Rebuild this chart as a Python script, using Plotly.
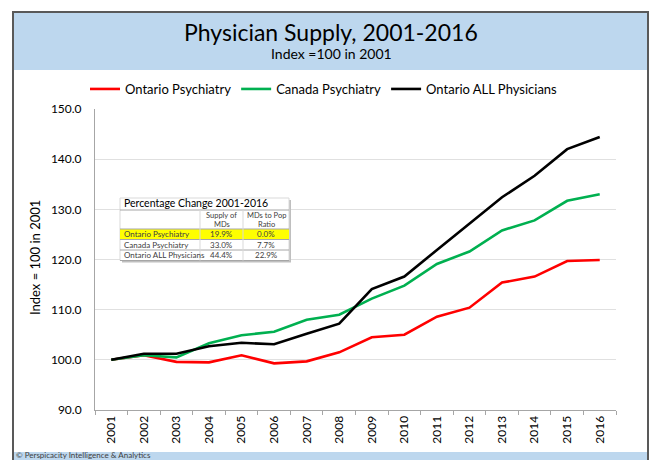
import plotly.graph_objects as go

years = [str(y) for y in range(2001, 2017)]
ontario_psych = [100.0, 100.9, 99.6, 99.5, 100.9, 99.3, 99.7, 101.5, 104.5, 105.0, 108.6, 110.4, 115.4, 116.6, 119.7, 119.9]
canada_psych = [100.0, 100.9, 100.5, 103.3, 104.9, 105.6, 108.0, 109.0, 112.2, 114.8, 119.1, 121.6, 125.8, 127.8, 131.7, 133.0]
ontario_all = [100.0, 101.2, 101.2, 102.7, 103.4, 103.1, 105.2, 107.2, 114.1, 116.6, 121.9, 127.2, 132.4, 136.7, 142.0, 144.4]
y_ticks = [90, 100, 110, 120, 130, 140, 150]

table_title = "Percentage Change 2001-2016"
table_headers = [("Supply of", "MDs"), ("MDs to Pop", "Ratio")]
table_rows = ["Ontario Psychiatry", "Canada Psychiatry", "Ontario ALL Physicians"]
table_supply = ["19.9%", "33.0%", "44.4%"]
table_ratio = ["0.0%", "7.7%", "22.9%"]

W, H = 650, 460
FONT = "Lato"

def px(x):
    return x / W

def py(y):
    return 1 - y / H

fig = go.Figure()
series = [("Ontario Psychiatry", ontario_psych, "#FF0000"),
          ("Canada Psychiatry", canada_psych, "#00B050"),
          ("Ontario ALL Physicians", ontario_all, "#000000")]
for name, vals, col in series:
    fig.add_trace(go.Scatter(x=years, y=vals, mode="lines", name=name,
                             line=dict(color=col, width=2.6)))

shapes = []
annotations = []
# header band
shapes.append(dict(type="rect", xref="paper", yref="paper", x0=px(13), x1=px(648), y0=py(70), y1=py(12),
                   fillcolor="#BDD7EE", line=dict(width=0), layer="below"))
# footer band
shapes.append(dict(type="rect", xref="paper", yref="paper", x0=px(13), x1=px(648), y0=py(462), y1=py(452),
                   fillcolor="#BDD7EE", line=dict(width=0), layer="below"))
# outer border
shapes.append(dict(type="rect", xref="paper", yref="paper", x0=px(13), x1=px(648), y0=py(470), y1=py(12),
                   fillcolor="rgba(0,0,0,0)", line=dict(color="#595959", width=2)))

annotations.append(dict(text="Physician Supply, 2001-2016", xref="paper", yref="paper", x=px(331), y=py(32),
                        showarrow=False, font=dict(family=FONT, size=23, color="#000000"), xanchor="center", yanchor="middle"))
annotations.append(dict(text="Index =100 in 2001", xref="paper", yref="paper", x=px(331), y=py(54),
                        showarrow=False, font=dict(family=FONT, size=14, color="#000000"), xanchor="center", yanchor="middle"))
annotations.append(dict(text="© Perspicacity Intelligence & Analytics", xref="paper", yref="paper", x=px(14), y=py(454.8),
                        showarrow=False, font=dict(family=FONT, size=8, color="#404040"), xanchor="left", yanchor="middle"))
annotations.append(dict(text="Index = 100 in 2001", xref="paper", yref="paper", x=px(35), y=py(258), textangle=-90,
                        showarrow=False, font=dict(family=FONT, size=13, color="#000000"), xanchor="center", yanchor="middle"))

# table
tx0, tc1, tc2, tx1 = 120, 200, 243, 289
ty_top, ty_title, ty_head, ty_r = 198, 210, 229, [229, 239.5, 250, 260.5]
shapes.append(dict(type="rect", xref="paper", yref="paper", x0=px(tx0 + 2), x1=px(tx1 + 2), y0=py(ty_r[-1] + 2), y1=py(ty_top + 2),
                   fillcolor="#BFBFBF", line=dict(width=0)))
shapes.append(dict(type="rect", xref="paper", yref="paper", x0=px(tx0), x1=px(tx1), y0=py(ty_r[-1]), y1=py(ty_top),
                   fillcolor="#FFFFFF", line=dict(color="#D9D9D9", width=1)))
shapes.append(dict(type="rect", xref="paper", yref="paper", x0=px(tx0), x1=px(tx1), y0=py(ty_r[1]), y1=py(ty_r[0]),
                   fillcolor="#FFFF00", line=dict(width=0)))
for yy in [ty_title, ty_head] + ty_r[1:]:
    shapes.append(dict(type="line", xref="paper", yref="paper", x0=px(tx0), x1=px(tx1), y0=py(yy), y1=py(yy),
                       line=dict(color="#A6A6A6", width=1)))
for xx in [tc1, tc2]:
    shapes.append(dict(type="line", xref="paper", yref="paper", x0=px(xx), x1=px(xx), y0=py(ty_r[-1]), y1=py(ty_title),
                       line=dict(color="#D9D9D9", width=1)))
annotations.append(dict(text=table_title, xref="paper", yref="paper", x=px(tx0 + 2), y=py(203.5),
                        showarrow=False, font=dict(family=FONT, size=10.5, color="#000000"), xanchor="left", yanchor="middle"))
for (h1, h2), cx in zip(table_headers, [(tc1 + tc2) / 2, (tc2 + tx1) / 2]):
    for txt, yy in ((h1, 215.8), (h2, 224.2)):
        annotations.append(dict(text=txt, xref="paper", yref="paper", x=px(cx), y=py(yy),
                                showarrow=False, font=dict(family=FONT, size=7.5, color="#404040"), xanchor="center", yanchor="middle"))
for i, (lab, s, r) in enumerate(zip(table_rows, table_supply, table_ratio)):
    yc = py((ty_r[i] + ty_r[i + 1]) / 2)
    annotations.append(dict(text=lab, xref="paper", yref="paper", x=px(tx0 + 2), y=yc, showarrow=False,
                            font=dict(family=FONT, size=8, color="#404040"), xanchor="left", yanchor="middle"))
    annotations.append(dict(text=s, xref="paper", yref="paper", x=px((tc1 + tc2) / 2), y=yc, showarrow=False,
                            font=dict(family=FONT, size=8, color="#404040"), xanchor="center", yanchor="middle"))
    annotations.append(dict(text=r, xref="paper", yref="paper", x=px((tc2 + tx1) / 2), y=yc, showarrow=False,
                            font=dict(family=FONT, size=8, color="#404040"), xanchor="center", yanchor="middle"))

fig.update_layout(
    width=W, height=H,
    margin=dict(l=0, r=0, t=0, b=0),
    paper_bgcolor="#FFFFFF", plot_bgcolor="#FFFFFF",
    font=dict(family=FONT, size=12, color="#000000"),
    showlegend=True,
    legend=dict(orientation="h", x=px(324), y=py(89), xanchor="center", yanchor="middle",
                font=dict(family=FONT, size=13, color="#000000"), itemwidth=30, bgcolor="rgba(0,0,0,0)"),
    shapes=shapes, annotations=annotations,
    xaxis=dict(domain=[px(95), px(616)], type="category", range=[-0.5, 15.5], tickson="boundaries",
               ticks="outside", ticklen=4,
               tickcolor="#A6A6A6", showline=True, linecolor="#A6A6A6", linewidth=1, showgrid=False,
               tickangle=-90, tickfont=dict(family=FONT, size=12, color="#000000"), automargin=False, zeroline=False),
    yaxis=dict(domain=[py(410), py(109)], range=[90, 150], tickvals=y_ticks,
               ticktext=[f"{v:.1f}" for v in y_ticks], showline=True, linecolor="#A6A6A6", linewidth=1,
               gridcolor="#E0E0E0", gridwidth=1, ticks="", ticklabelstandoff=10,
               tickfont=dict(family=FONT, size=12, color="#000000"), automargin=False, zeroline=False),
)

fig.write_html("out.html", config={"displayModeBar": False},
               post_script="document.body.style.margin='0px';document.body.style.overflow='hidden';")
